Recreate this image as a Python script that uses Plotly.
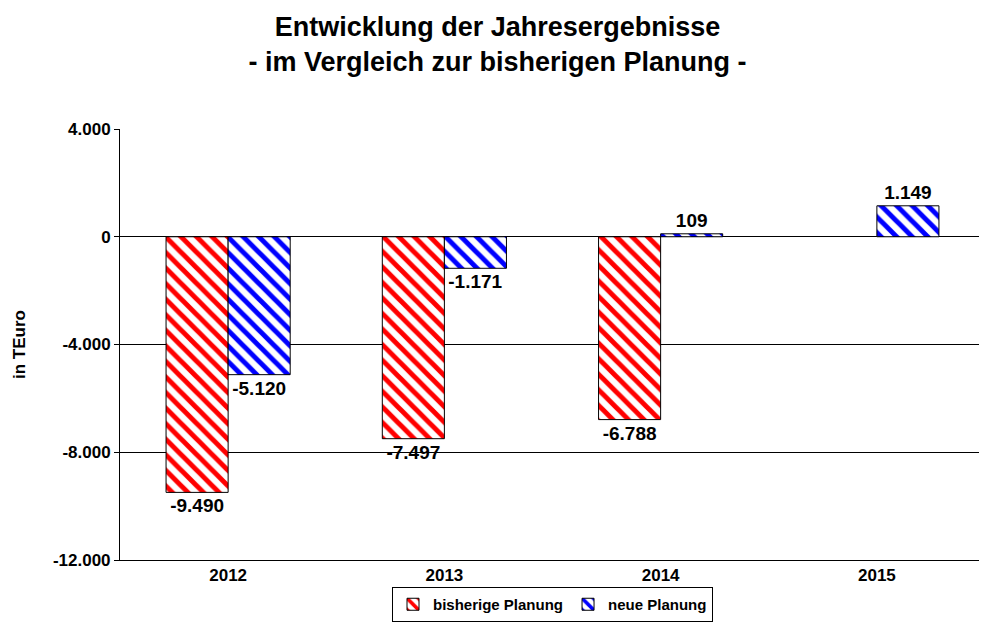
import plotly.graph_objects as go

years = ["2012", "2013", "2014", "2015"]
bisherige = [-9490, -7497, -6788, None]
neue = [-5120, -1171, 109, 1149]
tick_vals = [4000, 0, -4000, -8000, -12000]
tick_text = ["4.000", "0", "-4.000", "-8.000", "-12.000"]


def de(v):
    if v is None:
        return ""
    return f"{v:,}".replace(",", ".")


FONT = "Liberation Sans, Arial, sans-serif"


def bar(name, vals, color):
    return go.Bar(
        name=name, x=years, y=vals,
        text=[de(v) for v in vals], textposition="outside",
        textfont=dict(family=FONT, size=19, color="black", weight="bold"),
        marker=dict(color="white", line=dict(color="black", width=1),
                    pattern=dict(shape="\\", fgcolor=color, bgcolor="white",
                                 size=11, solidity=0.45, fillmode="replace")),
        cliponaxis=False, constraintext="none",
    )


fig = go.Figure()
fig.add_trace(bar("bisherige Planung", bisherige, "#ff0000"))
fig.add_trace(bar("neue Planung", neue, "#0000ff"))

fig.update_layout(
    width=979, height=614,
    paper_bgcolor="white", plot_bgcolor="white",
    font=dict(family=FONT, color="black"),
    margin=dict(l=112, r=2, t=121, b=62),
    barmode="group", bargap=0.426, bargroupgap=0,
    title=dict(text="<b>Entwicklung der Jahresergebnisse<br>- im Vergleich zur bisherigen Planung -</b>",
               x=0.5, xanchor="center", xref="container", y=0.955, yanchor="top",
               font=dict(family=FONT, size=27, color="black")),
    showlegend=True,
    legend=dict(orientation="h", x=0.5, xanchor="center",
                yref="container", y=0.0, yanchor="bottom",
                bordercolor="black", borderwidth=1,
                font=dict(family=FONT, size=15, color="black", weight="bold"),
                itemwidth=30),
    yaxis=dict(range=[-12000, 4000], tickvals=tick_vals, ticktext=tick_text,
               showgrid=True, gridcolor="black", gridwidth=1,
               zeroline=True, zerolinecolor="black", zerolinewidth=1,
               showline=True, linecolor="black", linewidth=1,
               ticks="outside", ticklen=5, tickcolor="black",
               tickfont=dict(family=FONT, size=17, color="black", weight="bold"),
               title=dict(text="in TEuro", standoff=22,
                          font=dict(family=FONT, size=17, color="black", weight="bold"))),
    xaxis=dict(showline=True, linecolor="black", linewidth=1, mirror=False,
               ticks="", showgrid=False,
               tickfont=dict(family=FONT, size=17, color="black", weight="bold")),
)

fig.write_html("out.html")
